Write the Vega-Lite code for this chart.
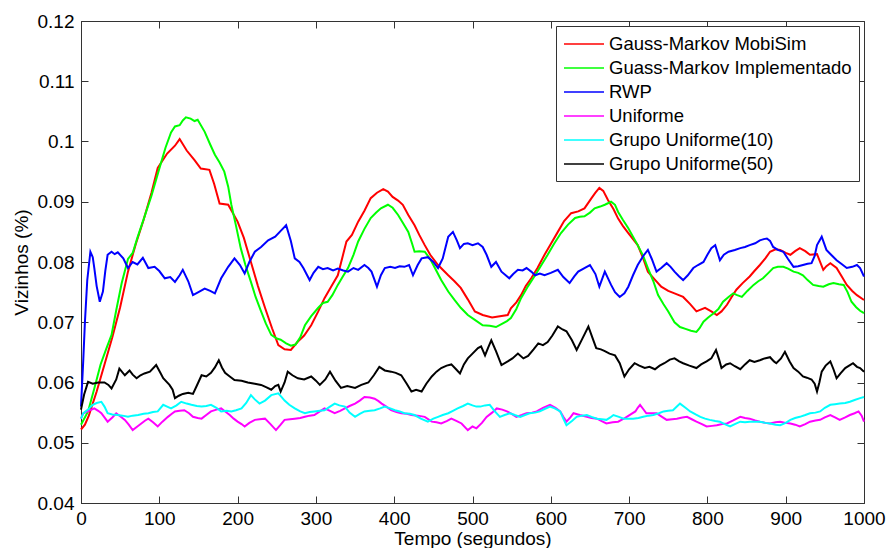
{
"$schema":"https://vega.github.io/schema/vega-lite/v6.json",
"width":783,"height":482,
"autosize":{"type":"none"},
"padding":{"left":81,"top":21,"right":23,"bottom":45},
"background":"white",
"config":{"view":{"stroke":"#333333","strokeWidth":1},"font":"Liberation Sans",
 "axis":{"grid":false,"domainColor":"#333333","tickColor":"#333333","labelColor":"black","titleColor":"black","labelFont":"Liberation Sans","titleFont":"Liberation Sans","labelFontSize":19,"titleFontSize":19,"titleFontWeight":"normal","labelFlush":false,"labelOverlap":false,"labelBound":false}},
"data":{"values":[
{"s":"Gauss-Markov MobiSim","t":0,"v":0.0522},{"s":"Gauss-Markov MobiSim","t":5,"v":0.053},{"s":"Gauss-Markov MobiSim","t":10,"v":0.0545},{"s":"Gauss-Markov MobiSim","t":20,"v":0.0585},{"s":"Gauss-Markov MobiSim","t":30,"v":0.063},{"s":"Gauss-Markov MobiSim","t":40,"v":0.0675},{"s":"Gauss-Markov MobiSim","t":50,"v":0.0725},{"s":"Gauss-Markov MobiSim","t":60,"v":0.0784},{"s":"Gauss-Markov MobiSim","t":70,"v":0.083},{"s":"Gauss-Markov MobiSim","t":80,"v":0.087},{"s":"Gauss-Markov MobiSim","t":90,"v":0.0915},{"s":"Gauss-Markov MobiSim","t":98,"v":0.0956},{"s":"Gauss-Markov MobiSim","t":110,"v":0.098},{"s":"Gauss-Markov MobiSim","t":120,"v":0.0993},{"s":"Gauss-Markov MobiSim","t":126,"v":0.1004},{"s":"Gauss-Markov MobiSim","t":135,"v":0.0985},{"s":"Gauss-Markov MobiSim","t":145,"v":0.0969},{"s":"Gauss-Markov MobiSim","t":153,"v":0.0955},{"s":"Gauss-Markov MobiSim","t":164,"v":0.0953},{"s":"Gauss-Markov MobiSim","t":170,"v":0.093},{"s":"Gauss-Markov MobiSim","t":177,"v":0.0897},{"s":"Gauss-Markov MobiSim","t":188,"v":0.0895},{"s":"Gauss-Markov MobiSim","t":200,"v":0.0867},{"s":"Gauss-Markov MobiSim","t":208,"v":0.084},{"s":"Gauss-Markov MobiSim","t":217,"v":0.08},{"s":"Gauss-Markov MobiSim","t":226,"v":0.076},{"s":"Gauss-Markov MobiSim","t":235,"v":0.0724},{"s":"Gauss-Markov MobiSim","t":244,"v":0.069},{"s":"Gauss-Markov MobiSim","t":252,"v":0.0662},{"s":"Gauss-Markov MobiSim","t":260,"v":0.0655},{"s":"Gauss-Markov MobiSim","t":268,"v":0.0654},{"s":"Gauss-Markov MobiSim","t":277,"v":0.0668},{"s":"Gauss-Markov MobiSim","t":285,"v":0.0678},{"s":"Gauss-Markov MobiSim","t":294,"v":0.0695},{"s":"Gauss-Markov MobiSim","t":303,"v":0.0718},{"s":"Gauss-Markov MobiSim","t":311,"v":0.074},{"s":"Gauss-Markov MobiSim","t":320,"v":0.076},{"s":"Gauss-Markov MobiSim","t":328,"v":0.0778},{"s":"Gauss-Markov MobiSim","t":339,"v":0.0834},{"s":"Gauss-Markov MobiSim","t":346,"v":0.0845},{"s":"Gauss-Markov MobiSim","t":354,"v":0.0867},{"s":"Gauss-Markov MobiSim","t":362,"v":0.0885},{"s":"Gauss-Markov MobiSim","t":370,"v":0.0906},{"s":"Gauss-Markov MobiSim","t":378,"v":0.0915},{"s":"Gauss-Markov MobiSim","t":386,"v":0.0921},{"s":"Gauss-Markov MobiSim","t":392,"v":0.0917},{"s":"Gauss-Markov MobiSim","t":398,"v":0.0908},{"s":"Gauss-Markov MobiSim","t":405,"v":0.0902},{"s":"Gauss-Markov MobiSim","t":411,"v":0.0895},{"s":"Gauss-Markov MobiSim","t":418,"v":0.0878},{"s":"Gauss-Markov MobiSim","t":426,"v":0.0861},{"s":"Gauss-Markov MobiSim","t":432,"v":0.0845},{"s":"Gauss-Markov MobiSim","t":439,"v":0.0828},{"s":"Gauss-Markov MobiSim","t":446,"v":0.0812},{"s":"Gauss-Markov MobiSim","t":456,"v":0.0795},{"s":"Gauss-Markov MobiSim","t":469,"v":0.0778},{"s":"Gauss-Markov MobiSim","t":477,"v":0.0768},{"s":"Gauss-Markov MobiSim","t":485,"v":0.0757},{"s":"Gauss-Markov MobiSim","t":494,"v":0.0738},{"s":"Gauss-Markov MobiSim","t":503,"v":0.0718},{"s":"Gauss-Markov MobiSim","t":513,"v":0.0712},{"s":"Gauss-Markov MobiSim","t":525,"v":0.0708},{"s":"Gauss-Markov MobiSim","t":535,"v":0.071},{"s":"Gauss-Markov MobiSim","t":545,"v":0.0712},{"s":"Gauss-Markov MobiSim","t":549,"v":0.0723},{"s":"Gauss-Markov MobiSim","t":556,"v":0.0733},{"s":"Gauss-Markov MobiSim","t":562,"v":0.0745},{"s":"Gauss-Markov MobiSim","t":568,"v":0.076},{"s":"Gauss-Markov MobiSim","t":575,"v":0.0773},{"s":"Gauss-Markov MobiSim","t":583,"v":0.079},{"s":"Gauss-Markov MobiSim","t":592,"v":0.0812},{"s":"Gauss-Markov MobiSim","t":600,"v":0.083},{"s":"Gauss-Markov MobiSim","t":609,"v":0.085},{"s":"Gauss-Markov MobiSim","t":617,"v":0.0868},{"s":"Gauss-Markov MobiSim","t":626,"v":0.0881},{"s":"Gauss-Markov MobiSim","t":635,"v":0.0884},{"s":"Gauss-Markov MobiSim","t":643,"v":0.0889},{"s":"Gauss-Markov MobiSim","t":652,"v":0.0906},{"s":"Gauss-Markov MobiSim","t":657,"v":0.0915},{"s":"Gauss-Markov MobiSim","t":662,"v":0.0923},{"s":"Gauss-Markov MobiSim","t":667,"v":0.0918},{"s":"Gauss-Markov MobiSim","t":673,"v":0.0903},{"s":"Gauss-Markov MobiSim","t":680,"v":0.0888},{"s":"Gauss-Markov MobiSim","t":686,"v":0.0872},{"s":"Gauss-Markov MobiSim","t":692,"v":0.086},{"s":"Gauss-Markov MobiSim","t":699,"v":0.0848},{"s":"Gauss-Markov MobiSim","t":705,"v":0.0838},{"s":"Gauss-Markov MobiSim","t":711,"v":0.0828},{"s":"Gauss-Markov MobiSim","t":718,"v":0.0806},{"s":"Gauss-Markov MobiSim","t":724,"v":0.0784},{"s":"Gauss-Markov MobiSim","t":732,"v":0.0772},{"s":"Gauss-Markov MobiSim","t":741,"v":0.0759},{"s":"Gauss-Markov MobiSim","t":750,"v":0.0752},{"s":"Gauss-Markov MobiSim","t":758,"v":0.0748},{"s":"Gauss-Markov MobiSim","t":769,"v":0.0742},{"s":"Gauss-Markov MobiSim","t":778,"v":0.073},{"s":"Gauss-Markov MobiSim","t":786,"v":0.0718},{"s":"Gauss-Markov MobiSim","t":797,"v":0.0724},{"s":"Gauss-Markov MobiSim","t":805,"v":0.0718},{"s":"Gauss-Markov MobiSim","t":812,"v":0.0712},{"s":"Gauss-Markov MobiSim","t":818,"v":0.0718},{"s":"Gauss-Markov MobiSim","t":825,"v":0.0729},{"s":"Gauss-Markov MobiSim","t":831,"v":0.0742},{"s":"Gauss-Markov MobiSim","t":837,"v":0.0754},{"s":"Gauss-Markov MobiSim","t":845,"v":0.0765},{"s":"Gauss-Markov MobiSim","t":854,"v":0.0776},{"s":"Gauss-Markov MobiSim","t":860,"v":0.0785},{"s":"Gauss-Markov MobiSim","t":867,"v":0.0795},{"s":"Gauss-Markov MobiSim","t":874,"v":0.0806},{"s":"Gauss-Markov MobiSim","t":880,"v":0.0817},{"s":"Gauss-Markov MobiSim","t":887,"v":0.0821},{"s":"Gauss-Markov MobiSim","t":893,"v":0.082},{"s":"Gauss-Markov MobiSim","t":900,"v":0.0815},{"s":"Gauss-Markov MobiSim","t":906,"v":0.0812},{"s":"Gauss-Markov MobiSim","t":912,"v":0.0818},{"s":"Gauss-Markov MobiSim","t":918,"v":0.0823},{"s":"Gauss-Markov MobiSim","t":925,"v":0.0818},{"s":"Gauss-Markov MobiSim","t":931,"v":0.0812},{"s":"Gauss-Markov MobiSim","t":940,"v":0.0813},{"s":"Gauss-Markov MobiSim","t":948,"v":0.0787},{"s":"Gauss-Markov MobiSim","t":952,"v":0.0793},{"s":"Gauss-Markov MobiSim","t":957,"v":0.0798},{"s":"Gauss-Markov MobiSim","t":965,"v":0.079},{"s":"Gauss-Markov MobiSim","t":972,"v":0.0775},{"s":"Gauss-Markov MobiSim","t":978,"v":0.0762},{"s":"Gauss-Markov MobiSim","t":985,"v":0.0752},{"s":"Gauss-Markov MobiSim","t":991,"v":0.0745},{"s":"Gauss-Markov MobiSim","t":1000,"v":0.0737},
{"s":"Guass-Markov Implementado","t":0,"v":0.053},{"s":"Guass-Markov Implementado","t":9,"v":0.0552},{"s":"Guass-Markov Implementado","t":17,"v":0.059},{"s":"Guass-Markov Implementado","t":25,"v":0.063},{"s":"Guass-Markov Implementado","t":32,"v":0.0655},{"s":"Guass-Markov Implementado","t":39,"v":0.0679},{"s":"Guass-Markov Implementado","t":45,"v":0.072},{"s":"Guass-Markov Implementado","t":52,"v":0.0765},{"s":"Guass-Markov Implementado","t":60,"v":0.0805},{"s":"Guass-Markov Implementado","t":66,"v":0.0815},{"s":"Guass-Markov Implementado","t":72,"v":0.084},{"s":"Guass-Markov Implementado","t":81,"v":0.0875},{"s":"Guass-Markov Implementado","t":90,"v":0.091},{"s":"Guass-Markov Implementado","t":100,"v":0.0955},{"s":"Guass-Markov Implementado","t":108,"v":0.099},{"s":"Guass-Markov Implementado","t":115,"v":0.1015},{"s":"Guass-Markov Implementado","t":120,"v":0.1025},{"s":"Guass-Markov Implementado","t":126,"v":0.1027},{"s":"Guass-Markov Implementado","t":130,"v":0.1035},{"s":"Guass-Markov Implementado","t":134,"v":0.104},{"s":"Guass-Markov Implementado","t":140,"v":0.1038},{"s":"Guass-Markov Implementado","t":145,"v":0.1034},{"s":"Guass-Markov Implementado","t":149,"v":0.1036},{"s":"Guass-Markov Implementado","t":158,"v":0.1016},{"s":"Guass-Markov Implementado","t":165,"v":0.0995},{"s":"Guass-Markov Implementado","t":171,"v":0.0978},{"s":"Guass-Markov Implementado","t":177,"v":0.0965},{"s":"Guass-Markov Implementado","t":183,"v":0.095},{"s":"Guass-Markov Implementado","t":188,"v":0.0925},{"s":"Guass-Markov Implementado","t":192,"v":0.0895},{"s":"Guass-Markov Implementado","t":198,"v":0.086},{"s":"Guass-Markov Implementado","t":204,"v":0.0823},{"s":"Guass-Markov Implementado","t":210,"v":0.0795},{"s":"Guass-Markov Implementado","t":217,"v":0.0767},{"s":"Guass-Markov Implementado","t":223,"v":0.0742},{"s":"Guass-Markov Implementado","t":230,"v":0.0718},{"s":"Guass-Markov Implementado","t":236,"v":0.0698},{"s":"Guass-Markov Implementado","t":243,"v":0.0679},{"s":"Guass-Markov Implementado","t":250,"v":0.0673},{"s":"Guass-Markov Implementado","t":255,"v":0.0671},{"s":"Guass-Markov Implementado","t":262,"v":0.0665},{"s":"Guass-Markov Implementado","t":268,"v":0.0661},{"s":"Guass-Markov Implementado","t":274,"v":0.0663},{"s":"Guass-Markov Implementado","t":280,"v":0.0675},{"s":"Guass-Markov Implementado","t":286,"v":0.0695},{"s":"Guass-Markov Implementado","t":294,"v":0.071},{"s":"Guass-Markov Implementado","t":303,"v":0.0724},{"s":"Guass-Markov Implementado","t":309,"v":0.0732},{"s":"Guass-Markov Implementado","t":315,"v":0.0734},{"s":"Guass-Markov Implementado","t":321,"v":0.0745},{"s":"Guass-Markov Implementado","t":328,"v":0.0762},{"s":"Guass-Markov Implementado","t":334,"v":0.0775},{"s":"Guass-Markov Implementado","t":341,"v":0.079},{"s":"Guass-Markov Implementado","t":348,"v":0.0812},{"s":"Guass-Markov Implementado","t":354,"v":0.0834},{"s":"Guass-Markov Implementado","t":362,"v":0.0855},{"s":"Guass-Markov Implementado","t":370,"v":0.0873},{"s":"Guass-Markov Implementado","t":377,"v":0.0882},{"s":"Guass-Markov Implementado","t":383,"v":0.0889},{"s":"Guass-Markov Implementado","t":392,"v":0.0895},{"s":"Guass-Markov Implementado","t":398,"v":0.089},{"s":"Guass-Markov Implementado","t":405,"v":0.0878},{"s":"Guass-Markov Implementado","t":411,"v":0.0865},{"s":"Guass-Markov Implementado","t":418,"v":0.085},{"s":"Guass-Markov Implementado","t":423,"v":0.083},{"s":"Guass-Markov Implementado","t":426,"v":0.0817},{"s":"Guass-Markov Implementado","t":432,"v":0.0818},{"s":"Guass-Markov Implementado","t":439,"v":0.0817},{"s":"Guass-Markov Implementado","t":446,"v":0.0805},{"s":"Guass-Markov Implementado","t":452,"v":0.079},{"s":"Guass-Markov Implementado","t":460,"v":0.077},{"s":"Guass-Markov Implementado","t":469,"v":0.0751},{"s":"Guass-Markov Implementado","t":477,"v":0.0737},{"s":"Guass-Markov Implementado","t":485,"v":0.0724},{"s":"Guass-Markov Implementado","t":494,"v":0.0712},{"s":"Guass-Markov Implementado","t":503,"v":0.0704},{"s":"Guass-Markov Implementado","t":513,"v":0.0695},{"s":"Guass-Markov Implementado","t":522,"v":0.0694},{"s":"Guass-Markov Implementado","t":530,"v":0.0692},{"s":"Guass-Markov Implementado","t":537,"v":0.0697},{"s":"Guass-Markov Implementado","t":544,"v":0.0702},{"s":"Guass-Markov Implementado","t":549,"v":0.0707},{"s":"Guass-Markov Implementado","t":556,"v":0.0722},{"s":"Guass-Markov Implementado","t":562,"v":0.074},{"s":"Guass-Markov Implementado","t":571,"v":0.076},{"s":"Guass-Markov Implementado","t":580,"v":0.0778},{"s":"Guass-Markov Implementado","t":588,"v":0.0795},{"s":"Guass-Markov Implementado","t":596,"v":0.0812},{"s":"Guass-Markov Implementado","t":604,"v":0.083},{"s":"Guass-Markov Implementado","t":613,"v":0.0848},{"s":"Guass-Markov Implementado","t":622,"v":0.0862},{"s":"Guass-Markov Implementado","t":631,"v":0.0873},{"s":"Guass-Markov Implementado","t":637,"v":0.0875},{"s":"Guass-Markov Implementado","t":643,"v":0.0876},{"s":"Guass-Markov Implementado","t":650,"v":0.0882},{"s":"Guass-Markov Implementado","t":656,"v":0.0889},{"s":"Guass-Markov Implementado","t":663,"v":0.0892},{"s":"Guass-Markov Implementado","t":669,"v":0.0895},{"s":"Guass-Markov Implementado","t":677,"v":0.09},{"s":"Guass-Markov Implementado","t":682,"v":0.0895},{"s":"Guass-Markov Implementado","t":686,"v":0.0883},{"s":"Guass-Markov Implementado","t":692,"v":0.087},{"s":"Guass-Markov Implementado","t":699,"v":0.0856},{"s":"Guass-Markov Implementado","t":705,"v":0.0842},{"s":"Guass-Markov Implementado","t":711,"v":0.0828},{"s":"Guass-Markov Implementado","t":718,"v":0.081},{"s":"Guass-Markov Implementado","t":724,"v":0.079},{"s":"Guass-Markov Implementado","t":731,"v":0.0768},{"s":"Guass-Markov Implementado","t":737,"v":0.0745},{"s":"Guass-Markov Implementado","t":744,"v":0.073},{"s":"Guass-Markov Implementado","t":750,"v":0.0718},{"s":"Guass-Markov Implementado","t":758,"v":0.07},{"s":"Guass-Markov Implementado","t":765,"v":0.0692},{"s":"Guass-Markov Implementado","t":772,"v":0.0689},{"s":"Guass-Markov Implementado","t":779,"v":0.0686},{"s":"Guass-Markov Implementado","t":786,"v":0.0684},{"s":"Guass-Markov Implementado","t":790,"v":0.069},{"s":"Guass-Markov Implementado","t":795,"v":0.0701},{"s":"Guass-Markov Implementado","t":801,"v":0.0708},{"s":"Guass-Markov Implementado","t":808,"v":0.0715},{"s":"Guass-Markov Implementado","t":814,"v":0.0722},{"s":"Guass-Markov Implementado","t":820,"v":0.0734},{"s":"Guass-Markov Implementado","t":827,"v":0.0742},{"s":"Guass-Markov Implementado","t":833,"v":0.0748},{"s":"Guass-Markov Implementado","t":838,"v":0.0745},{"s":"Guass-Markov Implementado","t":844,"v":0.0742},{"s":"Guass-Markov Implementado","t":851,"v":0.0752},{"s":"Guass-Markov Implementado","t":859,"v":0.0762},{"s":"Guass-Markov Implementado","t":865,"v":0.0768},{"s":"Guass-Markov Implementado","t":871,"v":0.0773},{"s":"Guass-Markov Implementado","t":878,"v":0.0782},{"s":"Guass-Markov Implementado","t":884,"v":0.079},{"s":"Guass-Markov Implementado","t":890,"v":0.0792},{"s":"Guass-Markov Implementado","t":897,"v":0.0792},{"s":"Guass-Markov Implementado","t":903,"v":0.0789},{"s":"Guass-Markov Implementado","t":910,"v":0.0784},{"s":"Guass-Markov Implementado","t":916,"v":0.0782},{"s":"Guass-Markov Implementado","t":922,"v":0.0778},{"s":"Guass-Markov Implementado","t":928,"v":0.077},{"s":"Guass-Markov Implementado","t":935,"v":0.0762},{"s":"Guass-Markov Implementado","t":942,"v":0.076},{"s":"Guass-Markov Implementado","t":948,"v":0.0759},{"s":"Guass-Markov Implementado","t":955,"v":0.0763},{"s":"Guass-Markov Implementado","t":961,"v":0.0765},{"s":"Guass-Markov Implementado","t":968,"v":0.0763},{"s":"Guass-Markov Implementado","t":974,"v":0.0762},{"s":"Guass-Markov Implementado","t":979,"v":0.075},{"s":"Guass-Markov Implementado","t":984,"v":0.0734},{"s":"Guass-Markov Implementado","t":990,"v":0.0725},{"s":"Guass-Markov Implementado","t":995,"v":0.0719},{"s":"Guass-Markov Implementado","t":1000,"v":0.0715},
{"s":"RWP","t":0,"v":0.056},{"s":"RWP","t":3,"v":0.064},{"s":"RWP","t":5,"v":0.07},{"s":"RWP","t":8,"v":0.077},{"s":"RWP","t":12,"v":0.0817},{"s":"RWP","t":15,"v":0.0808},{"s":"RWP","t":17,"v":0.079},{"s":"RWP","t":20,"v":0.076},{"s":"RWP","t":24,"v":0.0734},{"s":"RWP","t":28,"v":0.0751},{"s":"RWP","t":31,"v":0.0785},{"s":"RWP","t":34,"v":0.0812},{"s":"RWP","t":39,"v":0.0817},{"s":"RWP","t":43,"v":0.0813},{"s":"RWP","t":47,"v":0.0816},{"s":"RWP","t":54,"v":0.0806},{"s":"RWP","t":60,"v":0.079},{"s":"RWP","t":66,"v":0.08},{"s":"RWP","t":72,"v":0.0796},{"s":"RWP","t":79,"v":0.0807},{"s":"RWP","t":86,"v":0.079},{"s":"RWP","t":94,"v":0.0792},{"s":"RWP","t":100,"v":0.0785},{"s":"RWP","t":107,"v":0.0773},{"s":"RWP","t":114,"v":0.0775},{"s":"RWP","t":120,"v":0.0767},{"s":"RWP","t":126,"v":0.0778},{"s":"RWP","t":130,"v":0.0787},{"s":"RWP","t":137,"v":0.0768},{"s":"RWP","t":143,"v":0.0745},{"s":"RWP","t":150,"v":0.075},{"s":"RWP","t":158,"v":0.0756},{"s":"RWP","t":165,"v":0.0752},{"s":"RWP","t":171,"v":0.0748},{"s":"RWP","t":179,"v":0.0773},{"s":"RWP","t":188,"v":0.0792},{"s":"RWP","t":196,"v":0.0806},{"s":"RWP","t":203,"v":0.0795},{"s":"RWP","t":209,"v":0.0781},{"s":"RWP","t":215,"v":0.08},{"s":"RWP","t":222,"v":0.0817},{"s":"RWP","t":230,"v":0.0825},{"s":"RWP","t":239,"v":0.0836},{"s":"RWP","t":248,"v":0.0842},{"s":"RWP","t":256,"v":0.0853},{"s":"RWP","t":262,"v":0.0861},{"s":"RWP","t":268,"v":0.0835},{"s":"RWP","t":273,"v":0.0806},{"s":"RWP","t":279,"v":0.08},{"s":"RWP","t":284,"v":0.079},{"s":"RWP","t":292,"v":0.077},{"s":"RWP","t":297,"v":0.0782},{"s":"RWP","t":303,"v":0.0792},{"s":"RWP","t":309,"v":0.0788},{"s":"RWP","t":315,"v":0.079},{"s":"RWP","t":322,"v":0.0786},{"s":"RWP","t":328,"v":0.0789},{"s":"RWP","t":335,"v":0.0786},{"s":"RWP","t":341,"v":0.0784},{"s":"RWP","t":348,"v":0.079},{"s":"RWP","t":354,"v":0.0787},{"s":"RWP","t":362,"v":0.0795},{"s":"RWP","t":367,"v":0.079},{"s":"RWP","t":371,"v":0.0784},{"s":"RWP","t":378,"v":0.0759},{"s":"RWP","t":383,"v":0.0778},{"s":"RWP","t":388,"v":0.079},{"s":"RWP","t":395,"v":0.0792},{"s":"RWP","t":401,"v":0.079},{"s":"RWP","t":407,"v":0.0793},{"s":"RWP","t":413,"v":0.0792},{"s":"RWP","t":419,"v":0.0795},{"s":"RWP","t":424,"v":0.0778},{"s":"RWP","t":430,"v":0.0795},{"s":"RWP","t":435,"v":0.0806},{"s":"RWP","t":443,"v":0.0808},{"s":"RWP","t":450,"v":0.08},{"s":"RWP","t":456,"v":0.079},{"s":"RWP","t":462,"v":0.0806},{"s":"RWP","t":469,"v":0.0842},{"s":"RWP","t":475,"v":0.085},{"s":"RWP","t":480,"v":0.0836},{"s":"RWP","t":484,"v":0.0823},{"s":"RWP","t":489,"v":0.083},{"s":"RWP","t":494,"v":0.0831},{"s":"RWP","t":500,"v":0.0828},{"s":"RWP","t":507,"v":0.0831},{"s":"RWP","t":513,"v":0.0825},{"s":"RWP","t":518,"v":0.0812},{"s":"RWP","t":524,"v":0.0792},{"s":"RWP","t":530,"v":0.08},{"s":"RWP","t":537,"v":0.0784},{"s":"RWP","t":547,"v":0.0773},{"s":"RWP","t":552,"v":0.078},{"s":"RWP","t":558,"v":0.0787},{"s":"RWP","t":564,"v":0.0786},{"s":"RWP","t":569,"v":0.079},{"s":"RWP","t":575,"v":0.0784},{"s":"RWP","t":580,"v":0.0778},{"s":"RWP","t":586,"v":0.0781},{"s":"RWP","t":592,"v":0.0778},{"s":"RWP","t":600,"v":0.0782},{"s":"RWP","t":609,"v":0.0787},{"s":"RWP","t":616,"v":0.0775},{"s":"RWP","t":624,"v":0.0765},{"s":"RWP","t":630,"v":0.0776},{"s":"RWP","t":635,"v":0.0784},{"s":"RWP","t":643,"v":0.079},{"s":"RWP","t":650,"v":0.0795},{"s":"RWP","t":657,"v":0.078},{"s":"RWP","t":662,"v":0.0759},{"s":"RWP","t":669,"v":0.0784},{"s":"RWP","t":677,"v":0.0762},{"s":"RWP","t":682,"v":0.075},{"s":"RWP","t":688,"v":0.0742},{"s":"RWP","t":694,"v":0.0748},{"s":"RWP","t":699,"v":0.0759},{"s":"RWP","t":705,"v":0.0778},{"s":"RWP","t":711,"v":0.0795},{"s":"RWP","t":718,"v":0.081},{"s":"RWP","t":724,"v":0.082},{"s":"RWP","t":729,"v":0.0805},{"s":"RWP","t":735,"v":0.0784},{"s":"RWP","t":741,"v":0.079},{"s":"RWP","t":748,"v":0.0798},{"s":"RWP","t":753,"v":0.0792},{"s":"RWP","t":758,"v":0.0784},{"s":"RWP","t":764,"v":0.0776},{"s":"RWP","t":769,"v":0.077},{"s":"RWP","t":775,"v":0.0778},{"s":"RWP","t":782,"v":0.079},{"s":"RWP","t":788,"v":0.0795},{"s":"RWP","t":795,"v":0.08},{"s":"RWP","t":800,"v":0.0812},{"s":"RWP","t":805,"v":0.0823},{"s":"RWP","t":810,"v":0.0828},{"s":"RWP","t":816,"v":0.0803},{"s":"RWP","t":821,"v":0.0812},{"s":"RWP","t":827,"v":0.0817},{"s":"RWP","t":835,"v":0.082},{"s":"RWP","t":842,"v":0.0823},{"s":"RWP","t":848,"v":0.0825},{"s":"RWP","t":854,"v":0.0828},{"s":"RWP","t":861,"v":0.0831},{"s":"RWP","t":867,"v":0.0836},{"s":"RWP","t":872,"v":0.0838},{"s":"RWP","t":876,"v":0.0839},{"s":"RWP","t":880,"v":0.0835},{"s":"RWP","t":884,"v":0.0825},{"s":"RWP","t":890,"v":0.082},{"s":"RWP","t":897,"v":0.0817},{"s":"RWP","t":903,"v":0.0805},{"s":"RWP","t":910,"v":0.0792},{"s":"RWP","t":916,"v":0.0793},{"s":"RWP","t":922,"v":0.0795},{"s":"RWP","t":928,"v":0.0797},{"s":"RWP","t":933,"v":0.0798},{"s":"RWP","t":937,"v":0.081},{"s":"RWP","t":940,"v":0.0828},{"s":"RWP","t":946,"v":0.0842},{"s":"RWP","t":952,"v":0.082},{"s":"RWP","t":958,"v":0.0812},{"s":"RWP","t":965,"v":0.0803},{"s":"RWP","t":971,"v":0.0797},{"s":"RWP","t":978,"v":0.079},{"s":"RWP","t":985,"v":0.0792},{"s":"RWP","t":991,"v":0.0795},{"s":"RWP","t":995,"v":0.079},{"s":"RWP","t":1000,"v":0.0776},
{"s":"Uniforme","t":0,"v":0.054},{"s":"Uniforme","t":3,"v":0.0549},{"s":"Uniforme","t":10,"v":0.0553},{"s":"Uniforme","t":17,"v":0.0557},{"s":"Uniforme","t":22,"v":0.0553},{"s":"Uniforme","t":26,"v":0.0549},{"s":"Uniforme","t":30,"v":0.0542},{"s":"Uniforme","t":34,"v":0.0535},{"s":"Uniforme","t":40,"v":0.0542},{"s":"Uniforme","t":45,"v":0.0549},{"s":"Uniforme","t":50,"v":0.0544},{"s":"Uniforme","t":56,"v":0.0538},{"s":"Uniforme","t":61,"v":0.053},{"s":"Uniforme","t":66,"v":0.0521},{"s":"Uniforme","t":72,"v":0.0527},{"s":"Uniforme","t":77,"v":0.0532},{"s":"Uniforme","t":82,"v":0.0537},{"s":"Uniforme","t":86,"v":0.054},{"s":"Uniforme","t":92,"v":0.0534},{"s":"Uniforme","t":98,"v":0.0527},{"s":"Uniforme","t":104,"v":0.0535},{"s":"Uniforme","t":111,"v":0.0543},{"s":"Uniforme","t":116,"v":0.0548},{"s":"Uniforme","t":120,"v":0.0552},{"s":"Uniforme","t":126,"v":0.0553},{"s":"Uniforme","t":132,"v":0.0554},{"s":"Uniforme","t":138,"v":0.0549},{"s":"Uniforme","t":143,"v":0.0543},{"s":"Uniforme","t":149,"v":0.0541},{"s":"Uniforme","t":154,"v":0.054},{"s":"Uniforme","t":160,"v":0.0546},{"s":"Uniforme","t":166,"v":0.0552},{"s":"Uniforme","t":173,"v":0.0555},{"s":"Uniforme","t":179,"v":0.0557},{"s":"Uniforme","t":185,"v":0.0551},{"s":"Uniforme","t":190,"v":0.0546},{"s":"Uniforme","t":195,"v":0.054},{"s":"Uniforme","t":200,"v":0.0535},{"s":"Uniforme","t":205,"v":0.0531},{"s":"Uniforme","t":209,"v":0.0527},{"s":"Uniforme","t":215,"v":0.0533},{"s":"Uniforme","t":222,"v":0.0538},{"s":"Uniforme","t":228,"v":0.0539},{"s":"Uniforme","t":235,"v":0.054},{"s":"Uniforme","t":242,"v":0.0531},{"s":"Uniforme","t":249,"v":0.0521},{"s":"Uniforme","t":255,"v":0.053},{"s":"Uniforme","t":260,"v":0.0538},{"s":"Uniforme","t":267,"v":0.0539},{"s":"Uniforme","t":273,"v":0.054},{"s":"Uniforme","t":280,"v":0.0541},{"s":"Uniforme","t":286,"v":0.0543},{"s":"Uniforme","t":292,"v":0.0545},{"s":"Uniforme","t":298,"v":0.0546},{"s":"Uniforme","t":305,"v":0.0552},{"s":"Uniforme","t":311,"v":0.0557},{"s":"Uniforme","t":318,"v":0.0553},{"s":"Uniforme","t":324,"v":0.0549},{"s":"Uniforme","t":331,"v":0.0553},{"s":"Uniforme","t":337,"v":0.0557},{"s":"Uniforme","t":343,"v":0.0561},{"s":"Uniforme","t":350,"v":0.0565},{"s":"Uniforme","t":356,"v":0.057},{"s":"Uniforme","t":362,"v":0.0576},{"s":"Uniforme","t":369,"v":0.0575},{"s":"Uniforme","t":375,"v":0.0573},{"s":"Uniforme","t":380,"v":0.0569},{"s":"Uniforme","t":384,"v":0.0565},{"s":"Uniforme","t":390,"v":0.056},{"s":"Uniforme","t":396,"v":0.0554},{"s":"Uniforme","t":403,"v":0.0551},{"s":"Uniforme","t":409,"v":0.0549},{"s":"Uniforme","t":416,"v":0.0548},{"s":"Uniforme","t":422,"v":0.0546},{"s":"Uniforme","t":430,"v":0.0545},{"s":"Uniforme","t":439,"v":0.0543},{"s":"Uniforme","t":448,"v":0.0535},{"s":"Uniforme","t":454,"v":0.0534},{"s":"Uniforme","t":460,"v":0.0532},{"s":"Uniforme","t":467,"v":0.0536},{"s":"Uniforme","t":473,"v":0.054},{"s":"Uniforme","t":480,"v":0.0536},{"s":"Uniforme","t":486,"v":0.0532},{"s":"Uniforme","t":494,"v":0.0521},{"s":"Uniforme","t":500,"v":0.0527},{"s":"Uniforme","t":505,"v":0.0524},{"s":"Uniforme","t":512,"v":0.0533},{"s":"Uniforme","t":518,"v":0.0543},{"s":"Uniforme","t":525,"v":0.055},{"s":"Uniforme","t":531,"v":0.0557},{"s":"Uniforme","t":538,"v":0.0555},{"s":"Uniforme","t":544,"v":0.0552},{"s":"Uniforme","t":550,"v":0.0548},{"s":"Uniforme","t":556,"v":0.0543},{"s":"Uniforme","t":563,"v":0.0546},{"s":"Uniforme","t":569,"v":0.0549},{"s":"Uniforme","t":576,"v":0.055},{"s":"Uniforme","t":582,"v":0.0552},{"s":"Uniforme","t":590,"v":0.0558},{"s":"Uniforme","t":599,"v":0.0563},{"s":"Uniforme","t":606,"v":0.0558},{"s":"Uniforme","t":612,"v":0.0552},{"s":"Uniforme","t":616,"v":0.0543},{"s":"Uniforme","t":620,"v":0.0535},{"s":"Uniforme","t":625,"v":0.0542},{"s":"Uniforme","t":629,"v":0.0549},{"s":"Uniforme","t":637,"v":0.0546},{"s":"Uniforme","t":646,"v":0.0543},{"s":"Uniforme","t":652,"v":0.0541},{"s":"Uniforme","t":659,"v":0.054},{"s":"Uniforme","t":665,"v":0.0536},{"s":"Uniforme","t":671,"v":0.0532},{"s":"Uniforme","t":679,"v":0.0534},{"s":"Uniforme","t":686,"v":0.0535},{"s":"Uniforme","t":692,"v":0.0539},{"s":"Uniforme","t":697,"v":0.0543},{"s":"Uniforme","t":703,"v":0.0548},{"s":"Uniforme","t":708,"v":0.0552},{"s":"Uniforme","t":711,"v":0.0558},{"s":"Uniforme","t":714,"v":0.0563},{"s":"Uniforme","t":718,"v":0.0556},{"s":"Uniforme","t":722,"v":0.0549},{"s":"Uniforme","t":729,"v":0.0549},{"s":"Uniforme","t":735,"v":0.0549},{"s":"Uniforme","t":742,"v":0.0543},{"s":"Uniforme","t":748,"v":0.0538},{"s":"Uniforme","t":755,"v":0.0539},{"s":"Uniforme","t":761,"v":0.054},{"s":"Uniforme","t":768,"v":0.0542},{"s":"Uniforme","t":774,"v":0.0543},{"s":"Uniforme","t":780,"v":0.0539},{"s":"Uniforme","t":786,"v":0.0535},{"s":"Uniforme","t":793,"v":0.0531},{"s":"Uniforme","t":799,"v":0.0527},{"s":"Uniforme","t":806,"v":0.0528},{"s":"Uniforme","t":812,"v":0.0529},{"s":"Uniforme","t":819,"v":0.0531},{"s":"Uniforme","t":825,"v":0.0532},{"s":"Uniforme","t":833,"v":0.0537},{"s":"Uniforme","t":842,"v":0.0543},{"s":"Uniforme","t":848,"v":0.0541},{"s":"Uniforme","t":854,"v":0.054},{"s":"Uniforme","t":861,"v":0.0537},{"s":"Uniforme","t":867,"v":0.0535},{"s":"Uniforme","t":874,"v":0.0533},{"s":"Uniforme","t":880,"v":0.0532},{"s":"Uniforme","t":887,"v":0.0534},{"s":"Uniforme","t":893,"v":0.0535},{"s":"Uniforme","t":900,"v":0.0533},{"s":"Uniforme","t":906,"v":0.0532},{"s":"Uniforme","t":912,"v":0.053},{"s":"Uniforme","t":918,"v":0.0527},{"s":"Uniforme","t":925,"v":0.0531},{"s":"Uniforme","t":931,"v":0.0535},{"s":"Uniforme","t":938,"v":0.0537},{"s":"Uniforme","t":944,"v":0.0538},{"s":"Uniforme","t":950,"v":0.0542},{"s":"Uniforme","t":957,"v":0.0546},{"s":"Uniforme","t":963,"v":0.0542},{"s":"Uniforme","t":969,"v":0.0538},{"s":"Uniforme","t":976,"v":0.0542},{"s":"Uniforme","t":982,"v":0.0546},{"s":"Uniforme","t":988,"v":0.0549},{"s":"Uniforme","t":993,"v":0.0552},{"s":"Uniforme","t":997,"v":0.0545},{"s":"Uniforme","t":1000,"v":0.0535},
{"s":"Grupo Uniforme(10)","t":0,"v":0.054},{"s":"Grupo Uniforme(10)","t":3,"v":0.0549},{"s":"Grupo Uniforme(10)","t":9,"v":0.0555},{"s":"Grupo Uniforme(10)","t":15,"v":0.0563},{"s":"Grupo Uniforme(10)","t":20,"v":0.0566},{"s":"Grupo Uniforme(10)","t":26,"v":0.0568},{"s":"Grupo Uniforme(10)","t":30,"v":0.056},{"s":"Grupo Uniforme(10)","t":34,"v":0.0549},{"s":"Grupo Uniforme(10)","t":40,"v":0.0547},{"s":"Grupo Uniforme(10)","t":47,"v":0.0546},{"s":"Grupo Uniforme(10)","t":53,"v":0.0545},{"s":"Grupo Uniforme(10)","t":60,"v":0.0543},{"s":"Grupo Uniforme(10)","t":66,"v":0.0545},{"s":"Grupo Uniforme(10)","t":73,"v":0.0546},{"s":"Grupo Uniforme(10)","t":80,"v":0.0548},{"s":"Grupo Uniforme(10)","t":86,"v":0.0549},{"s":"Grupo Uniforme(10)","t":92,"v":0.0551},{"s":"Grupo Uniforme(10)","t":98,"v":0.0552},{"s":"Grupo Uniforme(10)","t":105,"v":0.0563},{"s":"Grupo Uniforme(10)","t":110,"v":0.056},{"s":"Grupo Uniforme(10)","t":115,"v":0.0557},{"s":"Grupo Uniforme(10)","t":122,"v":0.0562},{"s":"Grupo Uniforme(10)","t":128,"v":0.0568},{"s":"Grupo Uniforme(10)","t":135,"v":0.0565},{"s":"Grupo Uniforme(10)","t":141,"v":0.0563},{"s":"Grupo Uniforme(10)","t":148,"v":0.0561},{"s":"Grupo Uniforme(10)","t":154,"v":0.056},{"s":"Grupo Uniforme(10)","t":160,"v":0.0561},{"s":"Grupo Uniforme(10)","t":166,"v":0.0563},{"s":"Grupo Uniforme(10)","t":173,"v":0.0558},{"s":"Grupo Uniforme(10)","t":179,"v":0.0552},{"s":"Grupo Uniforme(10)","t":186,"v":0.0553},{"s":"Grupo Uniforme(10)","t":192,"v":0.0552},{"s":"Grupo Uniforme(10)","t":198,"v":0.0554},{"s":"Grupo Uniforme(10)","t":205,"v":0.0557},{"s":"Grupo Uniforme(10)","t":211,"v":0.0566},{"s":"Grupo Uniforme(10)","t":217,"v":0.0579},{"s":"Grupo Uniforme(10)","t":222,"v":0.0572},{"s":"Grupo Uniforme(10)","t":228,"v":0.0565},{"s":"Grupo Uniforme(10)","t":235,"v":0.057},{"s":"Grupo Uniforme(10)","t":243,"v":0.0579},{"s":"Grupo Uniforme(10)","t":252,"v":0.0582},{"s":"Grupo Uniforme(10)","t":256,"v":0.0576},{"s":"Grupo Uniforme(10)","t":260,"v":0.057},{"s":"Grupo Uniforme(10)","t":266,"v":0.0563},{"s":"Grupo Uniforme(10)","t":273,"v":0.0557},{"s":"Grupo Uniforme(10)","t":280,"v":0.0552},{"s":"Grupo Uniforme(10)","t":286,"v":0.0549},{"s":"Grupo Uniforme(10)","t":292,"v":0.0551},{"s":"Grupo Uniforme(10)","t":298,"v":0.0552},{"s":"Grupo Uniforme(10)","t":305,"v":0.0553},{"s":"Grupo Uniforme(10)","t":311,"v":0.0554},{"s":"Grupo Uniforme(10)","t":318,"v":0.056},{"s":"Grupo Uniforme(10)","t":324,"v":0.0565},{"s":"Grupo Uniforme(10)","t":330,"v":0.0562},{"s":"Grupo Uniforme(10)","t":337,"v":0.056},{"s":"Grupo Uniforme(10)","t":343,"v":0.055},{"s":"Grupo Uniforme(10)","t":350,"v":0.0543},{"s":"Grupo Uniforme(10)","t":356,"v":0.0548},{"s":"Grupo Uniforme(10)","t":362,"v":0.0552},{"s":"Grupo Uniforme(10)","t":369,"v":0.0553},{"s":"Grupo Uniforme(10)","t":375,"v":0.0554},{"s":"Grupo Uniforme(10)","t":382,"v":0.0557},{"s":"Grupo Uniforme(10)","t":388,"v":0.056},{"s":"Grupo Uniforme(10)","t":395,"v":0.0557},{"s":"Grupo Uniforme(10)","t":401,"v":0.0554},{"s":"Grupo Uniforme(10)","t":407,"v":0.0552},{"s":"Grupo Uniforme(10)","t":413,"v":0.0549},{"s":"Grupo Uniforme(10)","t":420,"v":0.0548},{"s":"Grupo Uniforme(10)","t":426,"v":0.0546},{"s":"Grupo Uniforme(10)","t":434,"v":0.054},{"s":"Grupo Uniforme(10)","t":443,"v":0.0535},{"s":"Grupo Uniforme(10)","t":450,"v":0.054},{"s":"Grupo Uniforme(10)","t":456,"v":0.0543},{"s":"Grupo Uniforme(10)","t":462,"v":0.0546},{"s":"Grupo Uniforme(10)","t":469,"v":0.0549},{"s":"Grupo Uniforme(10)","t":475,"v":0.0553},{"s":"Grupo Uniforme(10)","t":481,"v":0.0557},{"s":"Grupo Uniforme(10)","t":488,"v":0.0561},{"s":"Grupo Uniforme(10)","t":494,"v":0.0565},{"s":"Grupo Uniforme(10)","t":500,"v":0.0562},{"s":"Grupo Uniforme(10)","t":505,"v":0.056},{"s":"Grupo Uniforme(10)","t":510,"v":0.056},{"s":"Grupo Uniforme(10)","t":516,"v":0.0562},{"s":"Grupo Uniforme(10)","t":522,"v":0.0563},{"s":"Grupo Uniforme(10)","t":528,"v":0.0553},{"s":"Grupo Uniforme(10)","t":535,"v":0.0543},{"s":"Grupo Uniforme(10)","t":541,"v":0.0546},{"s":"Grupo Uniforme(10)","t":548,"v":0.0549},{"s":"Grupo Uniforme(10)","t":554,"v":0.0546},{"s":"Grupo Uniforme(10)","t":561,"v":0.0543},{"s":"Grupo Uniforme(10)","t":567,"v":0.0546},{"s":"Grupo Uniforme(10)","t":573,"v":0.0549},{"s":"Grupo Uniforme(10)","t":580,"v":0.055},{"s":"Grupo Uniforme(10)","t":586,"v":0.0552},{"s":"Grupo Uniforme(10)","t":592,"v":0.0556},{"s":"Grupo Uniforme(10)","t":599,"v":0.056},{"s":"Grupo Uniforme(10)","t":605,"v":0.0557},{"s":"Grupo Uniforme(10)","t":612,"v":0.0552},{"s":"Grupo Uniforme(10)","t":616,"v":0.054},{"s":"Grupo Uniforme(10)","t":620,"v":0.0529},{"s":"Grupo Uniforme(10)","t":627,"v":0.0536},{"s":"Grupo Uniforme(10)","t":633,"v":0.0543},{"s":"Grupo Uniforme(10)","t":640,"v":0.0545},{"s":"Grupo Uniforme(10)","t":646,"v":0.0546},{"s":"Grupo Uniforme(10)","t":652,"v":0.0543},{"s":"Grupo Uniforme(10)","t":659,"v":0.054},{"s":"Grupo Uniforme(10)","t":665,"v":0.0539},{"s":"Grupo Uniforme(10)","t":671,"v":0.0538},{"s":"Grupo Uniforme(10)","t":676,"v":0.0542},{"s":"Grupo Uniforme(10)","t":680,"v":0.0546},{"s":"Grupo Uniforme(10)","t":687,"v":0.0543},{"s":"Grupo Uniforme(10)","t":693,"v":0.054},{"s":"Grupo Uniforme(10)","t":699,"v":0.054},{"s":"Grupo Uniforme(10)","t":705,"v":0.054},{"s":"Grupo Uniforme(10)","t":712,"v":0.0541},{"s":"Grupo Uniforme(10)","t":718,"v":0.0543},{"s":"Grupo Uniforme(10)","t":725,"v":0.0545},{"s":"Grupo Uniforme(10)","t":731,"v":0.0546},{"s":"Grupo Uniforme(10)","t":738,"v":0.0549},{"s":"Grupo Uniforme(10)","t":744,"v":0.0552},{"s":"Grupo Uniforme(10)","t":750,"v":0.0553},{"s":"Grupo Uniforme(10)","t":756,"v":0.0554},{"s":"Grupo Uniforme(10)","t":761,"v":0.056},{"s":"Grupo Uniforme(10)","t":765,"v":0.0565},{"s":"Grupo Uniforme(10)","t":772,"v":0.0558},{"s":"Grupo Uniforme(10)","t":778,"v":0.0552},{"s":"Grupo Uniforme(10)","t":785,"v":0.0547},{"s":"Grupo Uniforme(10)","t":791,"v":0.0543},{"s":"Grupo Uniforme(10)","t":797,"v":0.054},{"s":"Grupo Uniforme(10)","t":803,"v":0.0538},{"s":"Grupo Uniforme(10)","t":810,"v":0.0536},{"s":"Grupo Uniforme(10)","t":816,"v":0.0535},{"s":"Grupo Uniforme(10)","t":822,"v":0.0531},{"s":"Grupo Uniforme(10)","t":829,"v":0.0527},{"s":"Grupo Uniforme(10)","t":835,"v":0.0531},{"s":"Grupo Uniforme(10)","t":842,"v":0.0535},{"s":"Grupo Uniforme(10)","t":848,"v":0.0534},{"s":"Grupo Uniforme(10)","t":854,"v":0.0535},{"s":"Grupo Uniforme(10)","t":861,"v":0.0535},{"s":"Grupo Uniforme(10)","t":867,"v":0.0535},{"s":"Grupo Uniforme(10)","t":874,"v":0.0533},{"s":"Grupo Uniforme(10)","t":880,"v":0.0532},{"s":"Grupo Uniforme(10)","t":887,"v":0.053},{"s":"Grupo Uniforme(10)","t":893,"v":0.0529},{"s":"Grupo Uniforme(10)","t":900,"v":0.0533},{"s":"Grupo Uniforme(10)","t":906,"v":0.0538},{"s":"Grupo Uniforme(10)","t":912,"v":0.0541},{"s":"Grupo Uniforme(10)","t":918,"v":0.0543},{"s":"Grupo Uniforme(10)","t":925,"v":0.0546},{"s":"Grupo Uniforme(10)","t":931,"v":0.0549},{"s":"Grupo Uniforme(10)","t":938,"v":0.055},{"s":"Grupo Uniforme(10)","t":944,"v":0.0552},{"s":"Grupo Uniforme(10)","t":950,"v":0.0558},{"s":"Grupo Uniforme(10)","t":957,"v":0.0563},{"s":"Grupo Uniforme(10)","t":963,"v":0.0564},{"s":"Grupo Uniforme(10)","t":969,"v":0.0565},{"s":"Grupo Uniforme(10)","t":976,"v":0.0566},{"s":"Grupo Uniforme(10)","t":982,"v":0.0568},{"s":"Grupo Uniforme(10)","t":988,"v":0.0571},{"s":"Grupo Uniforme(10)","t":995,"v":0.0574},{"s":"Grupo Uniforme(10)","t":1000,"v":0.0576},
{"s":"Grupo Uniforme(50)","t":0,"v":0.0555},{"s":"Grupo Uniforme(50)","t":4,"v":0.058},{"s":"Grupo Uniforme(50)","t":9,"v":0.0601},{"s":"Grupo Uniforme(50)","t":15,"v":0.0598},{"s":"Grupo Uniforme(50)","t":22,"v":0.06},{"s":"Grupo Uniforme(50)","t":30,"v":0.06},{"s":"Grupo Uniforme(50)","t":35,"v":0.0596},{"s":"Grupo Uniforme(50)","t":39,"v":0.059},{"s":"Grupo Uniforme(50)","t":45,"v":0.0605},{"s":"Grupo Uniforme(50)","t":49,"v":0.0623},{"s":"Grupo Uniforme(50)","t":56,"v":0.0612},{"s":"Grupo Uniforme(50)","t":62,"v":0.062},{"s":"Grupo Uniforme(50)","t":66,"v":0.0613},{"s":"Grupo Uniforme(50)","t":71,"v":0.0607},{"s":"Grupo Uniforme(50)","t":76,"v":0.0612},{"s":"Grupo Uniforme(50)","t":81,"v":0.0615},{"s":"Grupo Uniforme(50)","t":88,"v":0.0618},{"s":"Grupo Uniforme(50)","t":96,"v":0.0629},{"s":"Grupo Uniforme(50)","t":101,"v":0.0617},{"s":"Grupo Uniforme(50)","t":105,"v":0.0607},{"s":"Grupo Uniforme(50)","t":113,"v":0.0596},{"s":"Grupo Uniforme(50)","t":117,"v":0.0588},{"s":"Grupo Uniforme(50)","t":120,"v":0.0574},{"s":"Grupo Uniforme(50)","t":125,"v":0.0578},{"s":"Grupo Uniforme(50)","t":130,"v":0.0581},{"s":"Grupo Uniforme(50)","t":137,"v":0.0583},{"s":"Grupo Uniforme(50)","t":143,"v":0.0581},{"s":"Grupo Uniforme(50)","t":148,"v":0.0595},{"s":"Grupo Uniforme(50)","t":154,"v":0.0612},{"s":"Grupo Uniforme(50)","t":160,"v":0.061},{"s":"Grupo Uniforme(50)","t":166,"v":0.0616},{"s":"Grupo Uniforme(50)","t":171,"v":0.0625},{"s":"Grupo Uniforme(50)","t":176,"v":0.0637},{"s":"Grupo Uniforme(50)","t":180,"v":0.0625},{"s":"Grupo Uniforme(50)","t":184,"v":0.0616},{"s":"Grupo Uniforme(50)","t":190,"v":0.061},{"s":"Grupo Uniforme(50)","t":196,"v":0.0604},{"s":"Grupo Uniforme(50)","t":205,"v":0.0603},{"s":"Grupo Uniforme(50)","t":213,"v":0.06},{"s":"Grupo Uniforme(50)","t":222,"v":0.0598},{"s":"Grupo Uniforme(50)","t":230,"v":0.0596},{"s":"Grupo Uniforme(50)","t":237,"v":0.0592},{"s":"Grupo Uniforme(50)","t":243,"v":0.0588},{"s":"Grupo Uniforme(50)","t":248,"v":0.0594},{"s":"Grupo Uniforme(50)","t":252,"v":0.0596},{"s":"Grupo Uniforme(50)","t":255,"v":0.0585},{"s":"Grupo Uniforme(50)","t":260,"v":0.06},{"s":"Grupo Uniforme(50)","t":264,"v":0.0618},{"s":"Grupo Uniforme(50)","t":270,"v":0.0612},{"s":"Grupo Uniforme(50)","t":277,"v":0.0607},{"s":"Grupo Uniforme(50)","t":285,"v":0.0605},{"s":"Grupo Uniforme(50)","t":294,"v":0.061},{"s":"Grupo Uniforme(50)","t":300,"v":0.0603},{"s":"Grupo Uniforme(50)","t":305,"v":0.0596},{"s":"Grupo Uniforme(50)","t":312,"v":0.0605},{"s":"Grupo Uniforme(50)","t":318,"v":0.0618},{"s":"Grupo Uniforme(50)","t":325,"v":0.0603},{"s":"Grupo Uniforme(50)","t":332,"v":0.0591},{"s":"Grupo Uniforme(50)","t":340,"v":0.0594},{"s":"Grupo Uniforme(50)","t":350,"v":0.0591},{"s":"Grupo Uniforme(50)","t":358,"v":0.0596},{"s":"Grupo Uniforme(50)","t":367,"v":0.06},{"s":"Grupo Uniforme(50)","t":374,"v":0.0612},{"s":"Grupo Uniforme(50)","t":381,"v":0.0626},{"s":"Grupo Uniforme(50)","t":388,"v":0.062},{"s":"Grupo Uniforme(50)","t":396,"v":0.0618},{"s":"Grupo Uniforme(50)","t":402,"v":0.0616},{"s":"Grupo Uniforme(50)","t":409,"v":0.0612},{"s":"Grupo Uniforme(50)","t":416,"v":0.0598},{"s":"Grupo Uniforme(50)","t":422,"v":0.0585},{"s":"Grupo Uniforme(50)","t":428,"v":0.0588},{"s":"Grupo Uniforme(50)","t":435,"v":0.0585},{"s":"Grupo Uniforme(50)","t":441,"v":0.0598},{"s":"Grupo Uniforme(50)","t":448,"v":0.061},{"s":"Grupo Uniforme(50)","t":454,"v":0.0618},{"s":"Grupo Uniforme(50)","t":460,"v":0.0624},{"s":"Grupo Uniforme(50)","t":467,"v":0.0628},{"s":"Grupo Uniforme(50)","t":473,"v":0.063},{"s":"Grupo Uniforme(50)","t":479,"v":0.0622},{"s":"Grupo Uniforme(50)","t":484,"v":0.0615},{"s":"Grupo Uniforme(50)","t":489,"v":0.063},{"s":"Grupo Uniforme(50)","t":494,"v":0.064},{"s":"Grupo Uniforme(50)","t":500,"v":0.0648},{"s":"Grupo Uniforme(50)","t":507,"v":0.0657},{"s":"Grupo Uniforme(50)","t":511,"v":0.066},{"s":"Grupo Uniforme(50)","t":516,"v":0.0645},{"s":"Grupo Uniforme(50)","t":520,"v":0.0658},{"s":"Grupo Uniforme(50)","t":524,"v":0.067},{"s":"Grupo Uniforme(50)","t":530,"v":0.0652},{"s":"Grupo Uniforme(50)","t":537,"v":0.0629},{"s":"Grupo Uniforme(50)","t":545,"v":0.0635},{"s":"Grupo Uniforme(50)","t":551,"v":0.064},{"s":"Grupo Uniforme(50)","t":558,"v":0.0648},{"s":"Grupo Uniforme(50)","t":565,"v":0.064},{"s":"Grupo Uniforme(50)","t":571,"v":0.0644},{"s":"Grupo Uniforme(50)","t":578,"v":0.0655},{"s":"Grupo Uniforme(50)","t":584,"v":0.0665},{"s":"Grupo Uniforme(50)","t":590,"v":0.0662},{"s":"Grupo Uniforme(50)","t":596,"v":0.0667},{"s":"Grupo Uniforme(50)","t":602,"v":0.0678},{"s":"Grupo Uniforme(50)","t":609,"v":0.0693},{"s":"Grupo Uniforme(50)","t":615,"v":0.0688},{"s":"Grupo Uniforme(50)","t":620,"v":0.0685},{"s":"Grupo Uniforme(50)","t":627,"v":0.067},{"s":"Grupo Uniforme(50)","t":633,"v":0.0654},{"s":"Grupo Uniforme(50)","t":640,"v":0.0672},{"s":"Grupo Uniforme(50)","t":648,"v":0.0693},{"s":"Grupo Uniforme(50)","t":653,"v":0.0675},{"s":"Grupo Uniforme(50)","t":658,"v":0.0657},{"s":"Grupo Uniforme(50)","t":664,"v":0.0655},{"s":"Grupo Uniforme(50)","t":669,"v":0.0652},{"s":"Grupo Uniforme(50)","t":675,"v":0.0648},{"s":"Grupo Uniforme(50)","t":682,"v":0.0645},{"s":"Grupo Uniforme(50)","t":688,"v":0.0632},{"s":"Grupo Uniforme(50)","t":694,"v":0.061},{"s":"Grupo Uniforme(50)","t":700,"v":0.0622},{"s":"Grupo Uniforme(50)","t":707,"v":0.0632},{"s":"Grupo Uniforme(50)","t":713,"v":0.0628},{"s":"Grupo Uniforme(50)","t":720,"v":0.0624},{"s":"Grupo Uniforme(50)","t":726,"v":0.0626},{"s":"Grupo Uniforme(50)","t":733,"v":0.0622},{"s":"Grupo Uniforme(50)","t":739,"v":0.0628},{"s":"Grupo Uniforme(50)","t":745,"v":0.0632},{"s":"Grupo Uniforme(50)","t":752,"v":0.0638},{"s":"Grupo Uniforme(50)","t":758,"v":0.064},{"s":"Grupo Uniforme(50)","t":764,"v":0.0635},{"s":"Grupo Uniforme(50)","t":769,"v":0.0632},{"s":"Grupo Uniforme(50)","t":777,"v":0.0628},{"s":"Grupo Uniforme(50)","t":786,"v":0.0624},{"s":"Grupo Uniforme(50)","t":792,"v":0.063},{"s":"Grupo Uniforme(50)","t":799,"v":0.0635},{"s":"Grupo Uniforme(50)","t":805,"v":0.064},{"s":"Grupo Uniforme(50)","t":811,"v":0.0654},{"s":"Grupo Uniforme(50)","t":815,"v":0.0638},{"s":"Grupo Uniforme(50)","t":818,"v":0.0624},{"s":"Grupo Uniforme(50)","t":824,"v":0.063},{"s":"Grupo Uniforme(50)","t":829,"v":0.0632},{"s":"Grupo Uniforme(50)","t":835,"v":0.0627},{"s":"Grupo Uniforme(50)","t":842,"v":0.0622},{"s":"Grupo Uniforme(50)","t":848,"v":0.063},{"s":"Grupo Uniforme(50)","t":854,"v":0.0637},{"s":"Grupo Uniforme(50)","t":860,"v":0.0634},{"s":"Grupo Uniforme(50)","t":867,"v":0.0637},{"s":"Grupo Uniforme(50)","t":873,"v":0.064},{"s":"Grupo Uniforme(50)","t":880,"v":0.0642},{"s":"Grupo Uniforme(50)","t":885,"v":0.0635},{"s":"Grupo Uniforme(50)","t":888,"v":0.0632},{"s":"Grupo Uniforme(50)","t":894,"v":0.064},{"s":"Grupo Uniforme(50)","t":899,"v":0.0651},{"s":"Grupo Uniforme(50)","t":905,"v":0.0635},{"s":"Grupo Uniforme(50)","t":910,"v":0.0624},{"s":"Grupo Uniforme(50)","t":916,"v":0.0618},{"s":"Grupo Uniforme(50)","t":922,"v":0.061},{"s":"Grupo Uniforme(50)","t":927,"v":0.0608},{"s":"Grupo Uniforme(50)","t":933,"v":0.0605},{"s":"Grupo Uniforme(50)","t":937,"v":0.0598},{"s":"Grupo Uniforme(50)","t":940,"v":0.0585},{"s":"Grupo Uniforme(50)","t":943,"v":0.06},{"s":"Grupo Uniforme(50)","t":946,"v":0.0618},{"s":"Grupo Uniforme(50)","t":951,"v":0.0628},{"s":"Grupo Uniforme(50)","t":957,"v":0.0635},{"s":"Grupo Uniforme(50)","t":961,"v":0.0622},{"s":"Grupo Uniforme(50)","t":965,"v":0.0607},{"s":"Grupo Uniforme(50)","t":970,"v":0.0615},{"s":"Grupo Uniforme(50)","t":976,"v":0.0624},{"s":"Grupo Uniforme(50)","t":981,"v":0.0628},{"s":"Grupo Uniforme(50)","t":986,"v":0.0632},{"s":"Grupo Uniforme(50)","t":991,"v":0.0626},{"s":"Grupo Uniforme(50)","t":995,"v":0.0624},{"s":"Grupo Uniforme(50)","t":1000,"v":0.0618}
]},
"layer":[
{"mark":{"type":"line","strokeWidth":2},
 "encoding":{
  "x":{"field":"t","type":"quantitative","scale":{"domain":[0,1000],"nice":false},
   "axis":{"orient":"bottom","values":[0,100,200,300,400,500,600,700,800,900,1000],"format":"d","title":"Tempo (segundos)","tickSize":-7,"labelPadding":13,"titlePadding":1}},
  "y":{"field":"v","type":"quantitative","scale":{"domain":[0.04,0.12],"nice":false,"zero":false},
   "axis":{"orient":"left","values":[0.04,0.05,0.06,0.07,0.08,0.09,0.1,0.11,0.12],"format":".2~f","title":"Vizinhos (%)","tickSize":-7,"labelPadding":14,"titlePadding":6}},
  "color":{"field":"s","type":"nominal",
   "scale":{"domain":["Gauss-Markov MobiSim","Guass-Markov Implementado","RWP","Uniforme","Grupo Uniforme(10)","Grupo Uniforme(50)"],"range":["#ff0000","#00ff00","#0000ff","#ff00ff","#00ffff","#000000"]},
   "legend":{"orient":"top-right","offset":5,"title":null,"symbolType":"M-2,0H2","symbolSize":400,"symbolStrokeWidth":1.5,"symbolOffset":10,"labelFont":"Liberation Sans","labelFontSize":18.5,"labelColor":"black","labelLimit":0,"labelOffset":14,"strokeColor":"#333333","fillColor":"white","padding":7,"rowPadding":3}}
 }},
{"mark":{"type":"line","opacity":0},
 "encoding":{
  "x":{"field":"t","type":"quantitative","axis":{"orient":"top","values":[0,100,200,300,400,500,600,700,800,900,1000],"labels":false,"title":null,"domain":false,"tickSize":-7}},
  "y":{"field":"v","type":"quantitative","axis":{"orient":"right","values":[0.04,0.05,0.06,0.07,0.08,0.09,0.1,0.11,0.12],"labels":false,"title":null,"domain":false,"tickSize":-7}},
  "detail":{"field":"s","type":"nominal"}
 }}
],
"resolve":{"axis":{"x":"independent","y":"independent"}}
}
